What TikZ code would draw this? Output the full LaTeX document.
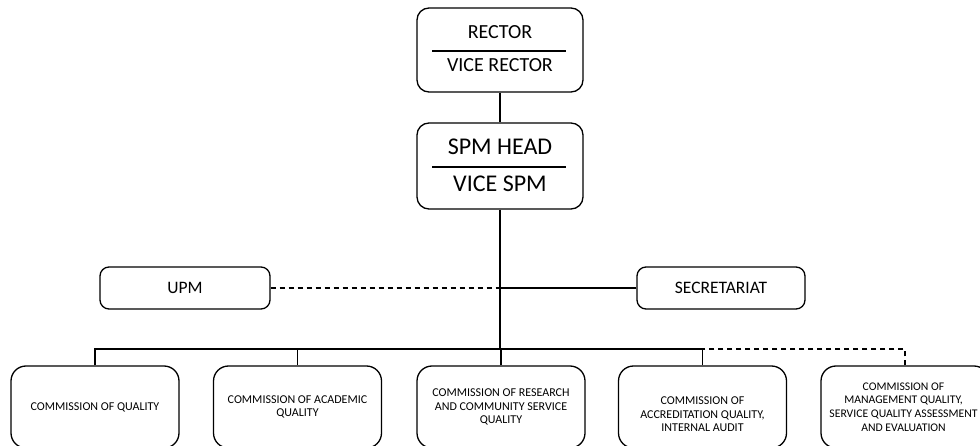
\documentclass[tikz,border=0pt]{standalone}
\usepackage{fontspec}
\setmainfont{Carlito}
\begin{document}
\begin{tikzpicture}[x=1pt,y=-1pt,
  box/.style={draw=black,line width=1.3pt,rounded corners=12pt,inner sep=0pt},
  headbox/.style={box,minimum width=166pt},
  sidebox/.style={box,rounded corners=9pt,minimum height=42pt,
    font=\fontsize{17.5}{19}\selectfont},
  combox/.style={box,rounded corners=15pt,minimum width=168pt,minimum height=82pt,
    align=center,font=\fontsize{12}{13.6}\selectfont},
  ctext/.style={align=center,inner sep=0pt,font=\fontsize{12}{13.6}\selectfont},
  rtext/.style={inner sep=0pt,font=\fontsize{20}{22}\selectfont},
  stext/.style={inner sep=0pt,font=\fontsize{24}{26}\selectfont},
  trunk/.style={line width=2.6pt},
  link/.style={line width=1.4pt},
  dlink/.style={line width=1.4pt,dash pattern=on 5pt off 4pt}]

\clip (0,0) rectangle (980,446);
\fill[white] (0,0) rectangle (980,446);

% top of the hierarchy
\node[headbox,minimum height=84pt] (rector) at (500,50) {};
\node[rtext] (rectorT) at (500,32) {RECTOR};
\node[rtext] (viceR) at (500,65.5) {VICE RECTOR};
\draw[line width=1.3pt] ([xshift=16pt]rector.west |- 0,51) -- ([xshift=-18pt]rector.east |- 0,51);

\node[headbox,minimum height=86pt] (spm) at (500,166) {};
\node[stext] (spmT) at (500,147) {SPM HEAD};
\node[stext] (viceS) at (500,184) {VICE SPM};
\draw[line width=1.3pt] ([xshift=16pt]spm.west |- 0,167) -- ([xshift=-18pt]spm.east |- 0,167);

% side units
\node[sidebox,minimum width=170pt] (upm) at (185,288) {UPM};
\node[sidebox,minimum width=168pt] (sec) at (721,288) {SECRETARIAT};

% commissions
\node[combox] (c1) at (95,407) {COMMISSION OF QUALITY};
\node[combox] (c2) at (297.5,407) {COMMISSION OF ACADEMIC\\QUALITY};
\node[combox] (c3) at (501,407) {COMMISSION OF RESEARCH\\AND COMMUNITY SERVICE\\QUALITY};
\node[combox] (c4) at (702.5,407) {};
\node[ctext] (c4T) at (702.5,414.5) {COMMISSION OF\\ACCREDITATION QUALITY,\\INTERNAL AUDIT};
\node[combox] (c5) at (905,407) {};
\node[ctext,font=\fontsize{11.7}{13.6}\selectfont] (c5T) at (903.5,407)
  {COMMISSION OF\\MANAGEMENT QUALITY,\\SERVICE QUALITY ASSESSMENT\\AND EVALUATION};

% connectors
\coordinate (hub) at (500,288);
\coordinate (bus) at (500,349);
\draw[trunk] (rector.south) -- (spm.north);
\draw[trunk] (spm.south) -- (bus);
\draw[dlink] (upm.east) -- (hub);
\draw[link] (sec.west) -- (hub);
\draw[link] (c1.north) |- (bus);
\draw[link] (c2.north) -- (c2.north |- bus);
\draw[link] (c3.north) -- (c3.north |- bus);
\draw[link] (c4.north) |- (bus);
\draw[dlink] (c5.north) |- (c4.north |- bus);
\end{tikzpicture}
\end{document}
